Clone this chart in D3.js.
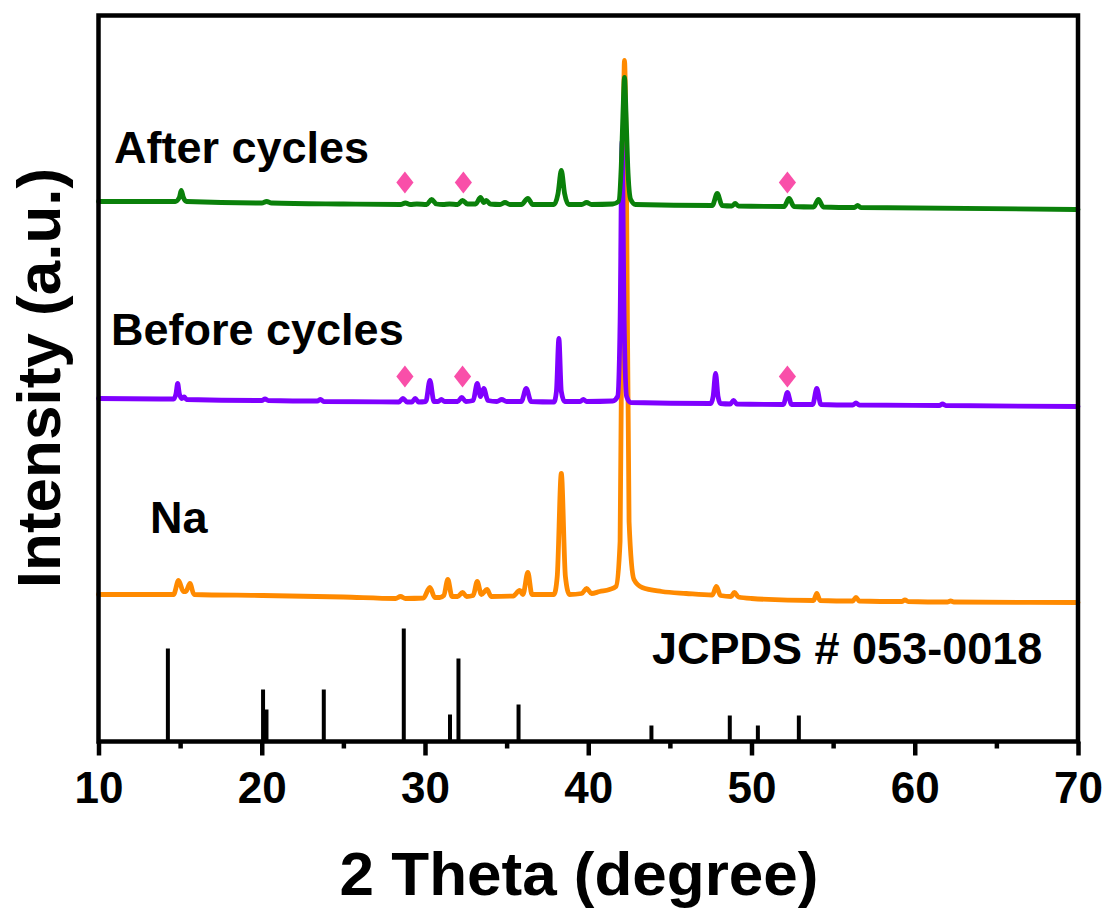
<!DOCTYPE html>
<html>
<head>
<meta charset="utf-8">
<script src="https://cdn.jsdelivr.net/npm/d3@7"></script>
<style>
  html, body { margin: 0; padding: 0; background: #fff; }
  svg text { font-family: "Liberation Sans", Arial, Helvetica, sans-serif; font-weight: bold; fill: #000; }
</style>
</head>
<body>
<svg id="chart" width="1107" height="908"></svg>
<script>
// ---------------- DATA ----------------
const xTicks = [10, 20, 30, 40, 50, 60, 70];
const xMinorTicks = [15, 25, 35, 45, 55, 65];

// Na (orange) pattern: [2theta, intensity (a.u., offset included)]
const naPattern = [
  [10,147],[14.6,147],[14.9,161],[15.2,150],[15.35,150],[15.6,158],[15.85,147],[20,146],[25,144.5],
  [28.2,143],[28.5,145],[28.8,143],[29.9,143.5],[30.3,154],[30.6,144],[30.9,144],[31.15,146],[31.4,162],
  [31.65,145],[32.0,145],[32.3,149],[32.55,145],[32.95,146],[33.2,160],[33.45,147],[33.8,152],[34.05,145],
  [35.4,145.5],[35.8,151],[36.0,147],[36.3,169],[36.55,147],[37.9,147],[38.1,165],[38.35,268],[38.6,165],
  [38.85,147],[39.6,148],[39.9,153],[40.2,148],[40.7,150],[41.3,152],[41.7,155],[41.95,200],[42.12,560],
  [42.22,681],[42.34,560],[42.5,220],[42.8,162],[43.3,154],[44.5,150],[46,148],[47.6,146.5],[47.85,155],
  [48.1,146],[48.75,145],[48.95,149],[49.2,144.5],[50,143],[53.8,141],[54.0,148],[54.2,141],[56.2,140.5],
  [56.4,144],[56.6,140.5],[59.2,140],[59.4,141.5],[59.6,140],[62,139.5],[62.2,140.5],[62.4,139.5],[70,139]
];

// Before cycles (purple)
const beforePattern = [
  [10,343],[14.6,342.5],[14.75,348],[14.85,358],[14.95,348],[15.1,343],[15.25,344.5],[15.4,342],[20,341],
  [20.2,342.5],[20.4,341],[23.4,340.5],[23.6,342],[23.8,340],[28.4,339.5],[28.65,343],[28.9,339.5],
  [29.2,339.5],[29.4,343],[29.6,339.5],[30.05,340],[30.3,361],[30.55,340],[30.8,340],[31.0,342],[31.2,340],
  [32.0,340],[32.25,344],[32.5,340],[32.95,341],[33.2,358],[33.4,345],[33.6,353],[33.85,341],[34.4,340],
  [34.7,342],[35.0,340],[35.9,340],[36.2,353],[36.5,340],[37.9,339.5],[38.05,350],[38.2,403],[38.35,350],
  [38.55,340],[39.5,340],[39.7,342],[39.9,340],[41.5,340.5],[41.8,345],[41.95,420],[42.07,600],[42.2,420],
  [42.35,345],[42.6,339],[47.5,338],[47.65,345],[47.8,368],[47.95,345],[48.1,338],[48.7,337.5],[48.9,341],
  [49.1,337.5],[51.95,337],[52.2,349],[52.45,337],[53.75,337],[54.0,353],[54.25,337],[56.2,336.5],
  [56.4,338.5],[56.6,336.5],[61.5,336],[61.7,337.5],[61.9,336],[70,335]
];

// After cycles (green)
const afterPattern = [
  [10,540],[14.7,540],[14.95,544],[15.07,551],[15.2,544],[15.4,540],[20,538.5],[20.3,540],[20.6,538.5],
  [25,537.5],[28.5,537],[28.8,538.5],[29.1,537],[29.5,537.5],[30.1,537],[30.4,542],[30.7,537.5],[31.1,537],
  [31.5,537.5],[32.0,537],[32.3,541],[32.6,537.5],[33.1,537.5],[33.4,544],[33.6,539],[33.75,541],[34.0,537.5],
  [34.6,537],[34.9,539],[35.2,537],[35.9,537],[36.3,543],[36.6,537],[37.9,537],[38.15,548],[38.35,571],
  [38.55,548],[38.8,537],[39.6,537],[39.9,539],[40.2,537],[41.5,537.5],[41.85,540],[42.02,575],[42.12,625],
  [42.22,664],[42.32,625],[42.42,575],[42.6,542],[42.9,537],[47.6,536],[47.9,548],[48.2,536],[48.8,535.5],
  [49.0,538],[49.2,535.5],[52.0,535],[52.3,543],[52.6,535],[53.8,534.5],[54.1,542],[54.4,534.5],
  [56.3,534],[56.5,536],[56.7,534],[70,532]
];

// JCPDS # 053-0018 reference lines: position and relative intensity
const refTheta = [14.25, 20.08, 20.29, 23.8, 28.7, 31.53, 32.05, 35.73, 43.87, 48.67, 50.39, 52.9];
const refInt   = [93, 52, 32, 52, 113, 27, 83, 37, 16, 26, 16, 26];

// diamond markers (impurity phase)
const markAfterTheta  = [28.77, 32.35, 52.2];
const markAfterLevel  = 559;
const markBeforeTheta = [28.77, 32.3, 52.2];
const markBeforeLevel = 365;

const seriesNames  = ["Na", "Before cycles", "After cycles"];
const seriesColors = ["#ff8a00", "#7f00ff", "#0a800a"];

// ---------------- CHART ----------------
(function () {
const svg = d3.select("#chart");
const mLeft = 98.5, mRight = 1078, mTop = 15.5, mBottom = 741.5;

const x = d3.scaleLinear().domain([10, 70]).range([mLeft, mRight]);
const y = d3.scaleLinear().domain([0, 726]).range([mBottom, mTop]);

const line = d3.line().x(d => x(d[0])).y(d => y(d[1])).curve(d3.curveMonotoneX);

// reference sticks
svg.append("g").selectAll("line").data(refTheta).join("line")
  .attr("x1", d => x(d)).attr("x2", d => x(d))
  .attr("y1", y(0)).attr("y2", (d, i) => y(refInt[i]))
  .attr("stroke", "#000").attr("stroke-width", 4);

// patterns: orange, purple, green (green on top)
[naPattern, beforePattern, afterPattern].forEach((p, i) => {
  svg.append("path").datum(p)
    .attr("d", line)
    .attr("fill", "none")
    .attr("stroke", seriesColors[i])
    .attr("stroke-width", 4.8)
    .attr("stroke-linejoin", "round")
    .attr("stroke-linecap", "round");
});

// diamonds (slightly taller than wide)
const tallDiamond = {
  draw(ctx, size) {
    const h = Math.sqrt(size) * 0.62, w = h * 0.78;
    ctx.moveTo(0, -h); ctx.lineTo(w, 0); ctx.lineTo(0, h); ctx.lineTo(-w, 0); ctx.closePath();
  }
};
const diamond = d3.symbol().type(tallDiamond).size(315);
const marks = markAfterTheta.map(t => [t, markAfterLevel]).concat(markBeforeTheta.map(t => [t, markBeforeLevel]));
svg.append("g").selectAll("path").data(marks).join("path")
  .attr("d", diamond)
  .attr("transform", d => `translate(${x(d[0])},${y(d[1])})`)
  .attr("fill", "#f94fa9");

// frame
svg.append("rect")
  .attr("x", mLeft).attr("y", mTop)
  .attr("width", mRight - mLeft).attr("height", mBottom - mTop)
  .attr("fill", "none").attr("stroke", "#000").attr("stroke-width", 4.5);

// bottom axis
const xAxis = d3.axisBottom(x).tickValues(xTicks).tickSize(14).tickPadding(16).tickFormat(d3.format("d"));
const gx = svg.append("g").attr("transform", `translate(0,${mBottom})`).call(xAxis);
gx.select(".domain").remove();
gx.selectAll(".tick line").attr("stroke", "#000").attr("stroke-width", 4.5);
gx.selectAll(".tick text").attr("font-size", 44).attr("fill", "#000")
  .attr("font-family", '"Liberation Sans", Arial, sans-serif').attr("font-weight", "bold");

const xMinor = d3.axisBottom(x).tickValues(xMinorTicks).tickSize(7).tickFormat("");
const gxm = svg.append("g").attr("transform", `translate(0,${mBottom})`).call(xMinor);
gxm.select(".domain").remove();
gxm.selectAll(".tick line").attr("stroke", "#000").attr("stroke-width", 4.5);

// axis titles
svg.append("text").attr("x", (345 + 813) / 2).attr("y", 895)
  .attr("text-anchor", "middle").attr("font-size", 62).text("2 Theta (degree)");
svg.append("text").attr("transform", "translate(60,378) rotate(-90)")
  .attr("text-anchor", "middle").attr("font-size", 62).text("Intensity (a.u.)");

// series labels
svg.append("text").attr("x", 114).attr("y", 163).attr("font-size", 45).text(seriesNames[2]);
svg.append("text").attr("x", 111).attr("y", 345).attr("font-size", 45).text(seriesNames[1]);
svg.append("text").attr("x", 150).attr("y", 533).attr("font-size", 45).text(seriesNames[0]);
svg.append("text").attr("x", 652).attr("y", 664).attr("font-size", 45).text("JCPDS # 053-0018");
})();
</script>
</body>
</html>
